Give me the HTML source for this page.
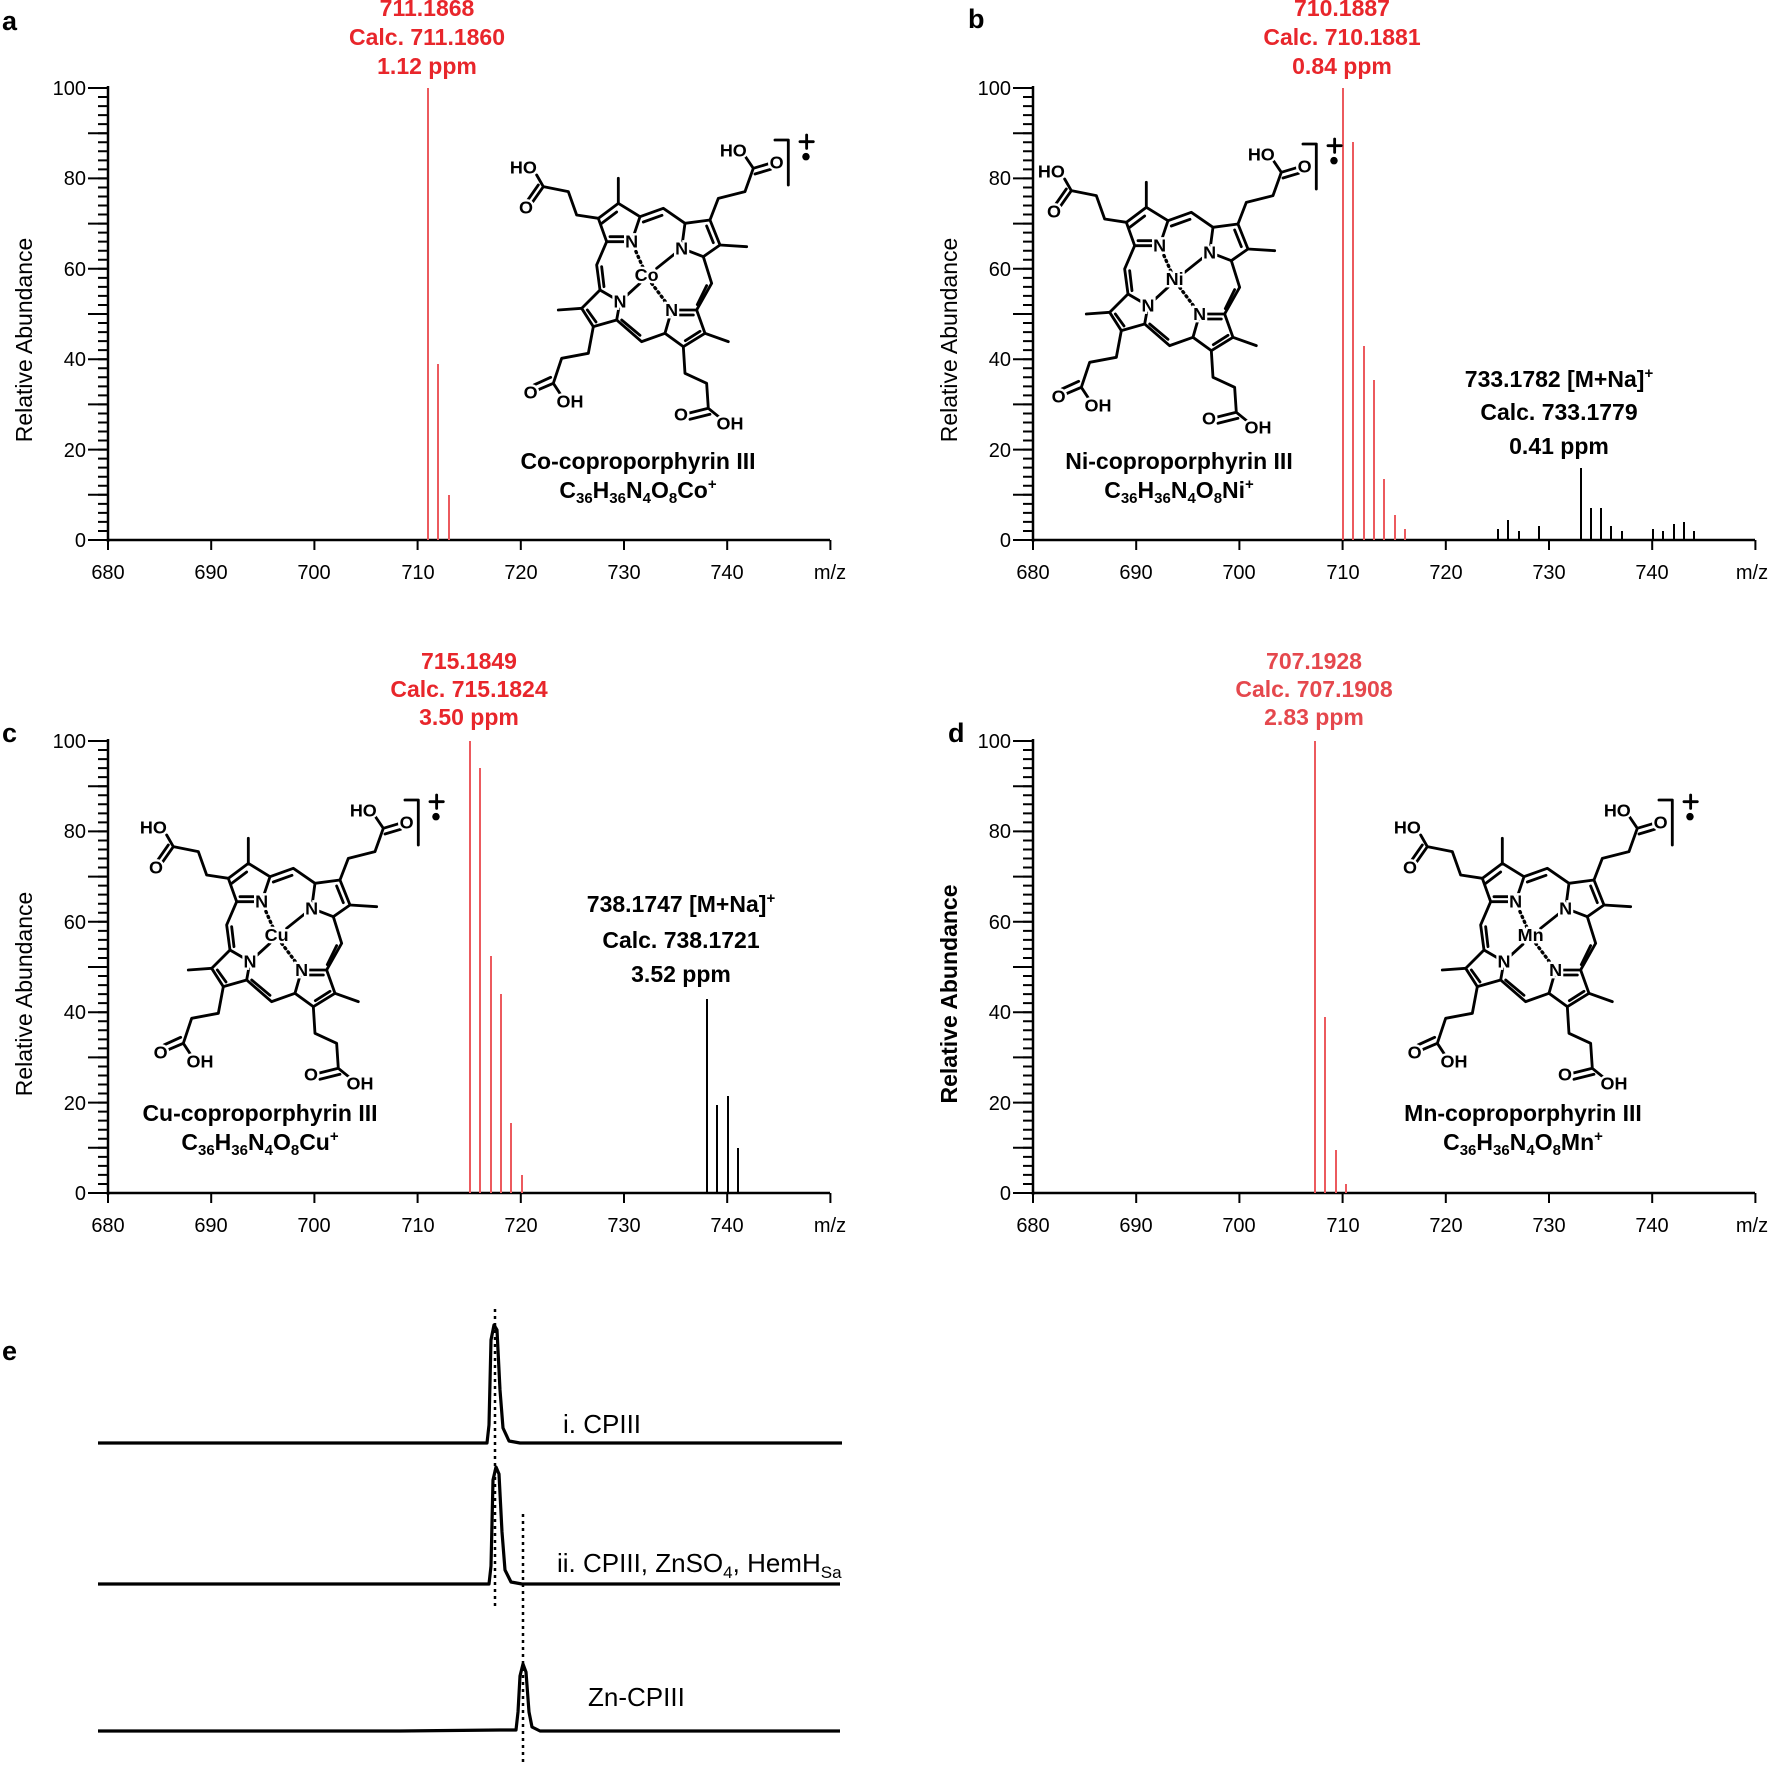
<!DOCTYPE html>
<html><head><meta charset="utf-8"><style>
html,body{margin:0;padding:0;background:#fff}
svg{display:block;font-family:"Liberation Sans",Arial,sans-serif}
.tl{font-size:20px}
.red{fill:#e8262b;font-weight:bold;font-size:23px}
.blk{font-weight:bold;font-size:23px}
.st text{font-size:54px;font-weight:bold;paint-order:stroke;stroke:#fff;stroke-width:14px}
.yt{font-size:23px}
</style></head><body>
<svg width="1772" height="1765" viewBox="0 0 1772 1765" xmlns="http://www.w3.org/2000/svg">
<defs>
<g id="por" fill="none" stroke="#000" stroke-width="8.5" stroke-linejoin="round" stroke-linecap="round">
<path d="M295,295L355,250L420,290L395,365L320,365Z M555,310L630,300L660,375L610,410L545,385Z M300,510L360,545L350,600L280,620L245,565Z M495,640L515,570L590,570L615,640L550,680Z"/>
<path d="M420,290L490,265L555,310 M320,365L290,435L300,510 M610,410L635,490L590,570 M350,600L425,665L495,640"/>
<path d="M355,250L355,175 M660,375L740,380 M245,565L175,570 M615,640L685,665"/>
<path d="M295,295L230,285L205,215L130,200 M130,200L110,165 M130,200L95,250 M115,195L82,242"/>
<path d="M630,300L655,235L735,215L760,145 M760,145L735,108 M760,145L810,130 M765,162L812,148"/>
<path d="M280,620L265,700L185,715L160,790 M160,790L108,812 M152,772L102,795 M160,790L185,828"/>
<path d="M550,680L555,760L620,790L625,865 M625,865L565,880 M630,883L570,898 M625,865L662,895"/>
<path d="M305,310L350,276 M330,350L382,350 M620,318L640,368 M262,570L288,606 M600,634L556,662 M525,585L580,585 M430,306L486,286 M305,440L312,500 M620,497L592,554 M365,600L420,646"/>
<path d="M545,385L470,445 M420,490L360,545"/>
<path d="M395,365L430,445 M455,490L515,570" stroke-dasharray="4 12" stroke-width="10"/>
<path d="M825,60L865,60L865,195 M900,65L940,65 M920,45L920,85"/>
<circle cx="918" cy="110" r="7" fill="#000"/>
</g>
</defs>

<g font-weight="bold" font-size="27">
<text x="2" y="30">a</text><text x="968" y="28">b</text>
<text x="2" y="742">c</text><text x="948" y="742">d</text>
<text x="2" y="1360">e</text>
</g>

<!-- Panel a -->
<g>
<text class="yt" transform="translate(32,340) rotate(-90)" text-anchor="middle">Relative Abundance</text>
<g stroke="#000" fill="none">
<path d="M108,86V542 M108,540H830" stroke-width="2.5"/>
<path d="M103,541V86" stroke-width="10" stroke-dasharray="2 7.04"/>
<path d="M98,541V86" stroke-width="20" stroke-dasharray="2 43.2"/>
<path d="M107,545H832" stroke-width="10" stroke-dasharray="2 101.2"/>
</g>
<g class="tl" text-anchor="end"><text x="86" y="547">0</text><text x="86" y="457">20</text><text x="86" y="366">40</text><text x="86" y="276">60</text><text x="86" y="185">80</text><text x="86" y="95">100</text></g>
<g class="tl" text-anchor="middle"><text x="108" y="579">680</text><text x="211" y="579">690</text><text x="314" y="579">700</text><text x="418" y="579">710</text><text x="521" y="579">720</text><text x="624" y="579">730</text><text x="727" y="579">740</text><text x="830" y="579">m/z</text></g>
<g stroke="#ec5a5e" stroke-width="2"><path d="M428,540V88 M438,540V364 M449,540V495"/></g>
<g class="red" text-anchor="middle"><text x="427" y="16">711.1868</text><text x="427" y="45">Calc. 711.1860</text><text x="427" y="74">1.12 ppm</text></g>
<g class="st" transform="translate(500,120) scale(0.3333)"><use href="#por"/>
<g text-anchor="middle" dominant-baseline="central"><text x="70" y="142">HO</text><text x="78" y="262">O</text><text x="700" y="92">HO</text><text x="830" y="128">O</text><text x="92" y="818">O</text><text x="210" y="845">OH</text><text x="543" y="884">O</text><text x="690" y="910">OH</text><text x="395" y="365">N</text><text x="545" y="385">N</text><text x="360" y="545">N</text><text x="515" y="570">N</text><text x="440" y="465">Co</text></g></g>
<g class="blk" text-anchor="middle"><text x="638" y="469">Co-coproporphyrin III</text><text x="638" y="498">C<tspan font-size="15" dy="5">36</tspan><tspan dy="-5">H</tspan><tspan font-size="15" dy="5">36</tspan><tspan dy="-5">N</tspan><tspan font-size="15" dy="5">4</tspan><tspan dy="-5">O</tspan><tspan font-size="15" dy="5">8</tspan><tspan dy="-5">Co</tspan><tspan font-size="15" dy="-9">+</tspan></text></g>
</g>

<!-- Panel b -->
<g>
<text class="yt" transform="translate(957,340) rotate(-90)" text-anchor="middle">Relative Abundance</text>
<g stroke="#000" fill="none">
<path d="M1033,86V542 M1033,540H1755" stroke-width="2.5"/>
<path d="M1028,541V86" stroke-width="10" stroke-dasharray="2 7.04"/>
<path d="M1023,541V86" stroke-width="20" stroke-dasharray="2 43.2"/>
<path d="M1032,545H1757" stroke-width="10" stroke-dasharray="2 101.2"/>
</g>
<g class="tl" text-anchor="end"><text x="1011" y="547">0</text><text x="1011" y="457">20</text><text x="1011" y="366">40</text><text x="1011" y="276">60</text><text x="1011" y="185">80</text><text x="1011" y="95">100</text></g>
<g class="tl" text-anchor="middle"><text x="1033" y="579">680</text><text x="1136" y="579">690</text><text x="1239" y="579">700</text><text x="1343" y="579">710</text><text x="1446" y="579">720</text><text x="1549" y="579">730</text><text x="1652" y="579">740</text><text x="1752" y="579">m/z</text></g>
<g stroke="#ec5a5e" stroke-width="2"><path d="M1343,540V88 M1353,540V142 M1364,540V346 M1374,540V380 M1384,540V479 M1395,540V515 M1405,540V529"/></g>
<g stroke="#000" stroke-width="2"><path d="M1498,540V529 M1508,540V520 M1519,540V531 M1539,540V526 M1581,540V468 M1591,540V508 M1601,540V508 M1611,540V526 M1622,540V531 M1653,540V529 M1663,540V531 M1674,540V524 M1684,540V522 M1694,540V531"/></g>
<g class="red" text-anchor="middle"><text x="1342" y="16">710.1887</text><text x="1342" y="45">Calc. 710.1881</text><text x="1342" y="74">0.84 ppm</text></g>
<g class="blk" text-anchor="middle"><text x="1559" y="387">733.1782 [M+Na]<tspan font-size="15" dy="-9">+</tspan></text><text x="1559" y="420">Calc. 733.1779</text><text x="1559" y="454">0.41 ppm</text></g>
<g class="st" transform="translate(1028,124) scale(0.3333)"><use href="#por"/>
<g text-anchor="middle" dominant-baseline="central"><text x="70" y="142">HO</text><text x="78" y="262">O</text><text x="700" y="92">HO</text><text x="830" y="128">O</text><text x="92" y="818">O</text><text x="210" y="845">OH</text><text x="543" y="884">O</text><text x="690" y="910">OH</text><text x="395" y="365">N</text><text x="545" y="385">N</text><text x="360" y="545">N</text><text x="515" y="570">N</text><text x="440" y="465">Ni</text></g></g>
<g class="blk" text-anchor="middle"><text x="1179" y="469">Ni-coproporphyrin III</text><text x="1179" y="498">C<tspan font-size="15" dy="5">36</tspan><tspan dy="-5">H</tspan><tspan font-size="15" dy="5">36</tspan><tspan dy="-5">N</tspan><tspan font-size="15" dy="5">4</tspan><tspan dy="-5">O</tspan><tspan font-size="15" dy="5">8</tspan><tspan dy="-5">Ni</tspan><tspan font-size="15" dy="-9">+</tspan></text></g>
</g>

<!-- Panel c -->
<g>
<text class="yt" transform="translate(32,994) rotate(-90)" text-anchor="middle">Relative Abundance</text>
<g stroke="#000" fill="none">
<path d="M108,739V1195 M108,1193H830" stroke-width="2.5"/>
<path d="M103,1194V739" stroke-width="10" stroke-dasharray="2 7.04"/>
<path d="M98,1194V739" stroke-width="20" stroke-dasharray="2 43.2"/>
<path d="M107,1198H832" stroke-width="10" stroke-dasharray="2 101.2"/>
</g>
<g class="tl" text-anchor="end"><text x="86" y="1200">0</text><text x="86" y="1110">20</text><text x="86" y="1019">40</text><text x="86" y="929">60</text><text x="86" y="838">80</text><text x="86" y="748">100</text></g>
<g class="tl" text-anchor="middle"><text x="108" y="1232">680</text><text x="211" y="1232">690</text><text x="314" y="1232">700</text><text x="418" y="1232">710</text><text x="521" y="1232">720</text><text x="624" y="1232">730</text><text x="727" y="1232">740</text><text x="830" y="1232">m/z</text></g>
<g stroke="#ec5a5e" stroke-width="2"><path d="M470,1193V741 M480,1193V768 M491,1193V956 M501,1193V994 M511,1193V1123 M522,1193V1175"/></g>
<g stroke="#000" stroke-width="2"><path d="M707,1193V999 M717,1193V1105 M728,1193V1096 M738,1193V1148"/></g>
<g class="red" text-anchor="middle"><text x="469" y="669">715.1849</text><text x="469" y="697">Calc. 715.1824</text><text x="469" y="725">3.50 ppm</text></g>
<g class="blk" text-anchor="middle"><text x="681" y="912">738.1747 [M+Na]<tspan font-size="15" dy="-9">+</tspan></text><text x="681" y="948">Calc. 738.1721</text><text x="681" y="982">3.52 ppm</text></g>
<g class="st" transform="translate(130,780) scale(0.3333)"><use href="#por"/>
<g text-anchor="middle" dominant-baseline="central"><text x="70" y="142">HO</text><text x="78" y="262">O</text><text x="700" y="92">HO</text><text x="830" y="128">O</text><text x="92" y="818">O</text><text x="210" y="845">OH</text><text x="543" y="884">O</text><text x="690" y="910">OH</text><text x="395" y="365">N</text><text x="545" y="385">N</text><text x="360" y="545">N</text><text x="515" y="570">N</text><text x="440" y="465">Cu</text></g></g>
<g class="blk" text-anchor="middle"><text x="260" y="1121">Cu-coproporphyrin III</text><text x="260" y="1150">C<tspan font-size="15" dy="5">36</tspan><tspan dy="-5">H</tspan><tspan font-size="15" dy="5">36</tspan><tspan dy="-5">N</tspan><tspan font-size="15" dy="5">4</tspan><tspan dy="-5">O</tspan><tspan font-size="15" dy="5">8</tspan><tspan dy="-5">Cu</tspan><tspan font-size="15" dy="-9">+</tspan></text></g>
</g>

<!-- Panel d -->
<g>
<text class="yt" transform="translate(957,994) rotate(-90)" text-anchor="middle" font-weight="bold">Relative Abundance</text>
<g stroke="#000" fill="none">
<path d="M1033,739V1195 M1033,1193H1755" stroke-width="2.5"/>
<path d="M1028,1194V739" stroke-width="10" stroke-dasharray="2 7.04"/>
<path d="M1023,1194V739" stroke-width="20" stroke-dasharray="2 43.2"/>
<path d="M1032,1198H1757" stroke-width="10" stroke-dasharray="2 101.2"/>
</g>
<g class="tl" text-anchor="end"><text x="1011" y="1200">0</text><text x="1011" y="1110">20</text><text x="1011" y="1019">40</text><text x="1011" y="929">60</text><text x="1011" y="838">80</text><text x="1011" y="748">100</text></g>
<g class="tl" text-anchor="middle"><text x="1033" y="1232">680</text><text x="1136" y="1232">690</text><text x="1239" y="1232">700</text><text x="1343" y="1232">710</text><text x="1446" y="1232">720</text><text x="1549" y="1232">730</text><text x="1652" y="1232">740</text><text x="1752" y="1232">m/z</text></g>
<g stroke="#ec5a5e" stroke-width="2"><path d="M1315,1193V741 M1325,1193V1017 M1336,1193V1150 M1346,1193V1184"/></g>
<g class="red" text-anchor="middle" style="fill:#e5484d"><text x="1314" y="669">707.1928</text><text x="1314" y="697">Calc. 707.1908</text><text x="1314" y="725">2.83 ppm</text></g>
<g class="st" transform="translate(1384,780) scale(0.3333)"><use href="#por"/>
<g text-anchor="middle" dominant-baseline="central"><text x="70" y="142">HO</text><text x="78" y="262">O</text><text x="700" y="92">HO</text><text x="830" y="128">O</text><text x="92" y="818">O</text><text x="210" y="845">OH</text><text x="543" y="884">O</text><text x="690" y="910">OH</text><text x="395" y="365">N</text><text x="545" y="385">N</text><text x="360" y="545">N</text><text x="515" y="570">N</text><text x="440" y="465">Mn</text></g></g>
<g class="blk" text-anchor="middle"><text x="1523" y="1121">Mn-coproporphyrin III</text><text x="1523" y="1150">C<tspan font-size="15" dy="5">36</tspan><tspan dy="-5">H</tspan><tspan font-size="15" dy="5">36</tspan><tspan dy="-5">N</tspan><tspan font-size="15" dy="5">4</tspan><tspan dy="-5">O</tspan><tspan font-size="15" dy="5">8</tspan><tspan dy="-5">Mn</tspan><tspan font-size="15" dy="-9">+</tspan></text></g>
</g>

<!-- Panel e -->
<g fill="none" stroke="#000" stroke-width="3.2" stroke-linejoin="round">
<path d="M98,1443L487,1443L489,1425L491,1340L494,1325L497,1330L500,1390L503,1428L509,1441L520,1443L842,1443"/>
<path d="M98,1584L489,1584L491,1566L493,1480L496,1467L499,1474L502,1532L505,1570L511,1582L522,1584L840,1584"/>
<path d="M98,1731L400,1731L500,1730L516,1730L518,1712L520,1676L523,1664L526,1672L529,1712L532,1727L540,1731L840,1731"/>
</g>
<g stroke="#000" stroke-width="2.5" stroke-dasharray="3 4">
<path d="M495,1309V1610 M523,1514V1763"/>
</g>
<g font-size="26">
<text x="563" y="1433">i. CPIII</text>
<text x="557" y="1572">ii. CPIII, ZnSO<tspan font-size="17" dy="6">4</tspan><tspan dy="-6">, HemH</tspan><tspan font-size="17" dy="6">Sa</tspan></text>
<text x="588" y="1706">Zn-CPIII</text>
</g>
</svg>
</body></html>
